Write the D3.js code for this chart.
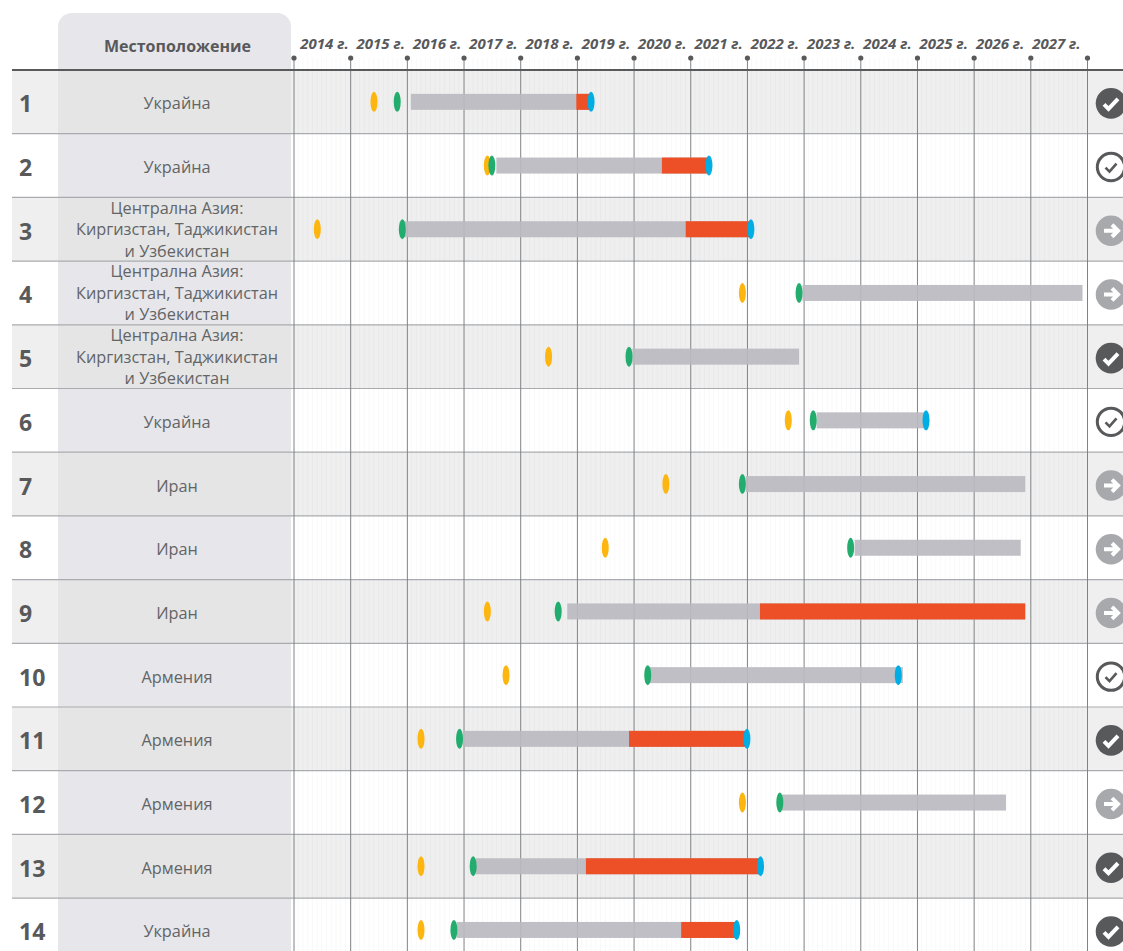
<!DOCTYPE html>
<html>
<head>
<meta charset="utf-8">
<script src="https://cdn.jsdelivr.net/npm/d3@7"></script>
<style>
html, body { margin: 0; padding: 0; background: #fff; overflow: hidden; }
svg { display: block; font-family: "Open Sans", sans-serif; }
</style>
</head>
<body>
<div id="chart"></div>
<script>
// rows
var rowIds = [1, 2, 3, 4, 5, 6, 7, 8, 9, 10, 11, 12, 13, 14];
var places = ["Украйна", "Украйна",
  "Централна Азия:|Киргизстан, Таджикистан|и Узбекистан",
  "Централна Азия:|Киргизстан, Таджикистан|и Узбекистан",
  "Централна Азия:|Киргизстан, Таджикистан|и Узбекистан",
  "Украйна", "Иран", "Иран", "Иран", "Армения", "Армения", "Армения", "Армения", "Украйна"];
var years = d3.range(2014, 2029);

// dates, in fractions of a year
var yellowAt = [2015.42, 2017.42, 2014.42, 2021.92, 2018.5, 2022.73, 2020.57, 2019.5, 2017.42, 2017.75, 2016.25, 2021.92, 2016.25, 2016.25];
var greenAt = [2015.83, 2017.5, 2015.92, 2022.92, 2019.92, 2023.17, 2021.92, 2023.83, 2018.67, 2020.25, 2016.93, 2022.58, 2017.17, 2016.83];
var barStart = [2016.07, 2017.58, 2015.95, 2022.98, 2019.98, 2023.23, 2021.98, 2023.9, 2018.83, 2020.28, 2017.0, 2022.62, 2017.22, 2016.88];
var barEnd = [2019.22, 2021.3, 2022.05, 2027.92, 2022.92, 2025.15, 2026.91, 2026.83, 2026.91, 2024.75, 2022.0, 2026.57, 2022.22, 2021.8];
var redStart = [2018.99, 2020.5, 2020.92, null, null, null, null, null, 2022.23, null, 2019.92, null, 2019.16, 2020.84];
var blueAt = [2019.25, 2021.33, 2022.07, null, null, 2025.16, null, null, null, 2024.67, 2022.0, null, 2022.24, 2021.82];
var rowStatus = ["done", "open", "next", "next", "done", "open", "next", "next", "next", "open", "done", "next", "done", "done"];

var w = 1123, h = 951;
var x = d3.scaleLinear().domain([2014, 2028]).range([293.5, 1087]);
var y = d3.scaleBand().domain(rowIds).range([70, 961.8]);
var oddRows = rowIds.filter(function(d) { return d % 2 == 1; });

var svg = d3.select("#chart").append("svg")
  .attr("width", w)
  .attr("height", h);

// striped rows
svg.selectAll("rect.band")
  .data(oddRows)
  .enter().append("rect")
  .attr("class", "band")
  .attr("x", 12)
  .attr("y", function(d) { return y(d); })
  .attr("width", w - 12)
  .attr("height", y.bandwidth())
  .attr("fill", "#efefef");

// location column
svg.append("path")
  .attr("d", "M58,951V27a14,14 0 0 1 14,-14H277a14,14 0 0 1 14,14V951Z")
  .attr("fill", "#e6e6eb");

// stripes are a bit greyer where they cross the column
svg.selectAll("rect.bandcol")
  .data(oddRows)
  .enter().append("rect")
  .attr("class", "bandcol")
  .attr("x", 58)
  .attr("y", function(d) { return y(d); })
  .attr("width", 233)
  .attr("height", y.bandwidth())
  .attr("fill", "#e5e5e5");

// month lines
var months = d3.range(0, 14 * 12).map(function(m) { return 2014 + m / 12; })
  .filter(function(d) { return (d - 2014) % 1 > 0.01; });
svg.selectAll("line.month")
  .data(months)
  .enter().append("line")
  .attr("class", "month")
  .attr("x1", function(d) { return x(d); })
  .attr("x2", function(d) { return x(d); })
  .attr("y1", 58)
  .attr("y2", h)
  .attr("stroke", "#000")
  .attr("stroke-opacity", 0.028);

// row lines
svg.selectAll("line.row")
  .data(rowIds.slice(1))
  .enter().append("line")
  .attr("class", "row")
  .attr("x1", 12)
  .attr("x2", w)
  .attr("y1", function(d) { return y(d); })
  .attr("y2", function(d) { return y(d); })
  .attr("stroke", "#a9abae")
  .attr("stroke-width", 1.2);

// year axis, the ticks run down through the whole chart
var axis = d3.axisTop(x)
  .tickValues(years)
  .tickSize(-(h - 58))
  .tickPadding(0)
  .tickFormat(function(d) { return d == 2028 ? "" : d + " г."; });

var axisG = svg.append("g")
  .attr("transform", "translate(0,58)")
  .call(axis);
axisG.select(".domain").remove();
axisG.selectAll(".tick line").attr("stroke", "#808285").attr("stroke-width", 1);
axisG.selectAll(".tick text")
  .attr("dx", function(d) { return 30.5 - (d - 2014) * 0.38; })
  .attr("y", -9)
  .attr("fill", "#58595b")
  .attr("font-family", "'Open Sans', sans-serif")
  .attr("font-size", "15px")
  .attr("font-weight", "700")
  .attr("font-style", "italic");
axisG.selectAll(".tick").append("circle")
  .attr("r", 2.6)
  .attr("fill", "#58595b");

// header rule
svg.append("line")
  .attr("x1", 12)
  .attr("x2", w)
  .attr("y1", 70)
  .attr("y2", 70)
  .attr("stroke", "#58595b")
  .attr("stroke-width", 2.2);

svg.append("text")
  .text("Местоположение")
  .attr("x", 177.5)
  .attr("y", 52)
  .attr("text-anchor", "middle")
  .attr("font-size", "16px")
  .attr("font-weight", "700")
  .attr("fill", "#58595b");

// row numbers
svg.selectAll("text.num")
  .data(rowIds)
  .enter().append("text")
  .attr("class", "num")
  .text(function(d) { return d; })
  .attr("x", 19)
  .attr("y", function(d) { return y(d) + y.bandwidth() / 2 + 10.5; })
  .attr("font-size", "23px")
  .attr("font-weight", "700")
  .attr("fill", "#58595b");

// places, split on | into lines
rowIds.forEach(function(id, i) {
  var lines = places[i].split("|");
  var mid = y(id) + y.bandwidth() / 2;
  var shift = lines.length == 1 ? 7.5 : 6;
  svg.selectAll(null)
    .data(lines)
    .enter().append("text")
    .text(function(d) { return d; })
    .attr("x", 177)
    .attr("y", function(d, k) { return mid + shift + (k - (lines.length - 1) / 2) * 21.5; })
    .attr("text-anchor", "middle")
    .attr("font-size", "16.3px")
    .attr("fill", "#636466");
});

var barH = 16;
var midY = function(i) { return y(rowIds[i]) + y.bandwidth() / 2; };

// grey bars
svg.selectAll("rect.bar")
  .data(barStart)
  .enter().append("rect")
  .attr("class", "bar")
  .attr("x", function(d) { return x(d); })
  .attr("y", function(d, i) { return midY(i) - barH / 2; })
  .attr("width", function(d, i) { return x(barEnd[i]) - x(d); })
  .attr("height", barH)
  .attr("fill", "#babac0")
  .attr("fill-opacity", 0.92);

// red part of the bars
redStart.forEach(function(d, i) {
  if (d == null) return;
  svg.append("rect")
    .attr("class", "red")
    .attr("x", x(d))
    .attr("y", midY(i) - barH / 2)
    .attr("width", x(barEnd[i]) - x(d))
    .attr("height", barH)
    .attr("fill", "#ee4c21")
    .attr("fill-opacity", 0.97);
});

// markers
function markers(values, colour) {
  values.forEach(function(d, i) {
    if (d == null) return;
    svg.append("ellipse")
      .attr("cx", x(d))
      .attr("cy", midY(i))
      .attr("rx", 3.5)
      .attr("ry", 10)
      .attr("fill", colour);
  });
}
markers(yellowAt, "#fdb50f");
markers(greenAt, "#22ad6e");
markers(blueAt, "#00aee3");

// status icons
var icons = svg.selectAll("g.icon")
  .data(rowStatus)
  .enter().append("g")
  .attr("class", "icon")
  .attr("transform", function(d, i) { return "translate(1111," + (midY(i) + 1.5) + ")"; });

icons.append("circle")
  .attr("r", function(d) { return d == "open" ? 13.7 : 15.3; })
  .attr("fill", function(d) { return d == "done" ? "#58595b" : d == "next" ? "#a7a9ac" : "none"; })
  .attr("stroke", function(d) { return d == "open" ? "#58595b" : "none"; })
  .attr("stroke-width", function(d) { return d == "open" ? 3 : 0; });

icons.append("path")
  .attr("d", function(d) {
    if (d == "done") return "M-7,1L-2.5,5.5L7,-4.5";
    if (d == "open") return "M-5.5,0.5L-1.5,4.5L5.5,-3.5";
    return "M-7,0H6M1,-6L7,0L1,6";
  })
  .attr("fill", "none")
  .attr("stroke", function(d) { return d == "open" ? "#58595b" : "#fff"; })
  .attr("stroke-width", function(d) { return d == "open" ? 2.6 : 4; });
</script>
</body>
</html>
